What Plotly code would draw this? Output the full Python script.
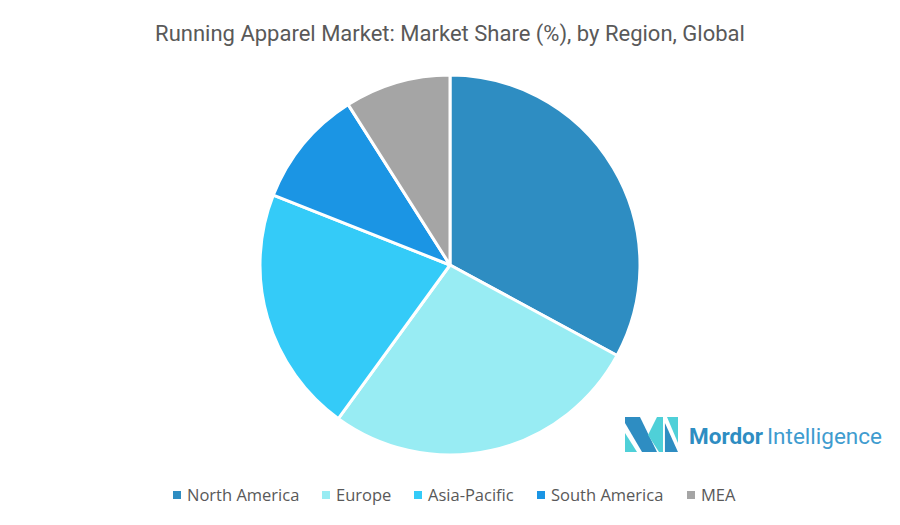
import plotly.graph_objects as go

regions = ["North America", "Europe", "Asia-Pacific", "South America", "MEA"]
shares = [32.9, 27.1, 21.0, 10.0, 9.0]
colors = ["#2e8dc2", "#98ecf3", "#34cbf8", "#1b95e4", "#a5a5a5"]
legend_x = [173, 322, 414, 537, 687]

title = "Running Apparel Market: Market Share (%), by Region, Global"

# the page body keeps an 8px margin, so the figure is 8px smaller than the window
W, H = 892, 517


def px(x):
    return (x - 8) / W


def py(y):
    return 1 - (y - 8) / H


fig = go.Figure(
    go.Pie(
        labels=regions,
        values=shares,
        sort=False,
        direction="clockwise",
        rotation=0,
        textinfo="none",
        hoverinfo="label+percent",
        showlegend=False,
        marker=dict(colors=colors, line=dict(color="white", width=3)),
        domain=dict(x=[px(250), px(650)], y=[py(455), py(75)]),
    )
)


def poly(points, color):
    path = "M " + " L ".join(f"{px(x):.4f},{py(y):.4f}" for x, y in points) + " Z"
    fig.add_shape(type="path", path=path, xref="paper", yref="paper",
                  fillcolor=color, line_width=0, layer="above")


# logo
poly([(625, 417), (640, 417), (657, 452), (642, 452), (625, 423)], "#2e8dc2")
poly([(625, 433), (637, 452), (625, 452)], "#4fd0d8")
poly([(648, 435), (657, 417), (663, 417), (663, 452), (659, 452)], "#4fd0d8")
poly([(667, 417), (678, 417), (678, 443)], "#4fd0d8")
poly([(665, 423), (678, 452), (665, 452)], "#2e8dc2")

fig.add_annotation(text="<b>Mordor</b>", x=px(687), y=py(436), xref="paper", yref="paper",
                   xanchor="left", yanchor="middle", showarrow=False,
                   font=dict(family="Roboto", size=22.5, color="#2e8dc2"))
fig.add_annotation(text="Intelligence", x=px(765), y=py(436), xref="paper", yref="paper",
                   xanchor="left", yanchor="middle", showarrow=False,
                   font=dict(family="Roboto", size=22.5, color="#3f9ccf"))

# legend drawn by hand, the built-in one leaves too wide a gap after the marker
for name, color, x in zip(regions, colors, legend_x):
    fig.add_shape(type="rect", xref="paper", yref="paper",
                  x0=px(x), x1=px(x + 8), y0=py(499), y1=py(491),
                  fillcolor=color, line_width=0)
    fig.add_annotation(text=name, x=px(x + 12), y=py(494), xref="paper", yref="paper",
                       xanchor="left", yanchor="middle", showarrow=False,
                       font=dict(family="Open Sans", size=16.5, color="#595959"))

fig.update_layout(
    width=W,
    height=H,
    margin=dict(l=0, r=0, t=0, b=0),
    paper_bgcolor="white",
    title=dict(text=title, x=px(450), xanchor="center", y=py(33), yanchor="middle",
               font=dict(family="Roboto", size=22, color="#595959")),
)

fig.write_html("out.html")
